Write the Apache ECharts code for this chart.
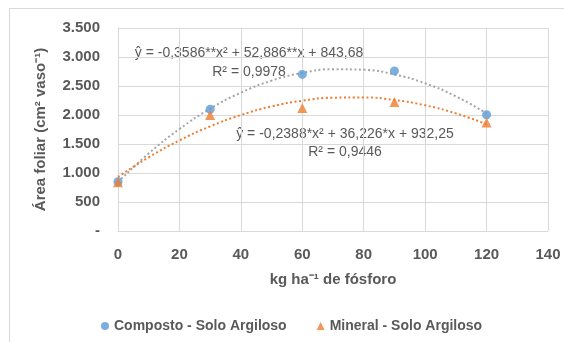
<!DOCTYPE html>
<html><head><meta charset="utf-8">
<script src="https://cdn.jsdelivr.net/npm/echarts@6/dist/echarts.min.js"></script>
<style>html,body{margin:0;padding:0;background:#fff}#c{width:564px;height:342px}</style>
</head><body><div id="c"></div>
<script>
// ---- data ----
var doses = [0, 30, 60, 90, 120];
var composto = [850, 2100, 2700, 2760, 2005];
var mineral = [840, 2000, 2120, 2225, 1870];
// trend curves (x = 0..120 step 10)
var trendX = [0, 10, 20, 30, 40, 50, 60, 70, 80, 90, 100, 110, 120];
var trendComposto = [844, 1337, 1758, 2108, 2385, 2592, 2726, 2789, 2780, 2699, 2546, 2322, 2026];
var trendMineral = [932, 1271, 1561, 1804, 1999, 2147, 2246, 2298, 2302, 2258, 2167, 2028, 1841];
var xTicks = {min: 0, max: 140, step: 20};
var yTicks = {min: 0, max: 3500, step: 500};
var eqComposto = ['ŷ = -0,3586**x² + 52,886**x + 843,68', 'R² = 0,9978'];
var eqMineral = ['ŷ = -0,2388*x² + 36,226*x + 932,25', 'R² = 0,9446'];
var names = ['Composto - Solo Argiloso', 'Mineral - Solo Argiloso'];

function pairs(xs, ys){ return xs.map(function(x,i){ return [x, ys[i]]; }); }

var font = 'Liberation Sans, Arial, sans-serif';
var grayTxt = '#595959';
var chart = echarts.init(document.getElementById('c'));
chart.setOption({
  animation: false,
  textStyle: {fontFamily: font},
  grid: {left: 118, right: 16, top: 28, bottom: 111},
  graphic: [
    {type: 'rect', shape: {x: 9.5, y: 8.5, width: 700, height: 500}, style: {fill: 'none', stroke: '#d9d9d9', lineWidth: 1}, z: -1},
    {type: 'text', x: 249, y: 53, style: {text: eqComposto[0], fill: grayTxt, font: '14px ' + font, textAlign: 'center', textVerticalAlign: 'middle'}},
    {type: 'text', x: 249, y: 72, style: {text: eqComposto[1], fill: grayTxt, font: '14px ' + font, textAlign: 'center', textVerticalAlign: 'middle'}},
    {type: 'text', x: 345, y: 134, style: {text: eqMineral[0], fill: grayTxt, font: '14px ' + font, textAlign: 'center', textVerticalAlign: 'middle'}},
    {type: 'text', x: 345, y: 152, style: {text: eqMineral[1], fill: grayTxt, font: '14px ' + font, textAlign: 'center', textVerticalAlign: 'middle'}}
  ],
  legend: {
    left: 96, top: 314,
    itemWidth: 8, itemHeight: 8, itemGap: 30,
    data: names,
    textStyle: {color: grayTxt, fontSize: 14, fontWeight: 'bold', fontFamily: font}
  },
  xAxis: {
    type: 'value', min: xTicks.min, max: xTicks.max, interval: xTicks.step,
    name: 'kg ha⁻¹ de fósforo', nameLocation: 'middle', nameGap: 41,
    nameTextStyle: {color: grayTxt, fontSize: 15, fontWeight: 'bold'},
    axisLine: {show: true, lineStyle: {color: '#d9d9d9'}},
    axisTick: {show: false},
    axisLabel: {color: grayTxt, fontSize: 15, fontWeight: 'bold', margin: 16},
    splitLine: {show: true, lineStyle: {color: '#d9d9d9'}}
  },
  yAxis: {
    type: 'value', min: yTicks.min, max: yTicks.max, interval: yTicks.step,
    name: 'Área foliar (cm² vaso⁻¹)', nameLocation: 'middle', nameGap: 70, nameRotate: 90,
    nameTextStyle: {color: grayTxt, fontSize: 15, fontWeight: 'bold'},
    axisLine: {show: true, lineStyle: {color: '#d9d9d9'}},
    axisTick: {show: false},
    axisLabel: {color: grayTxt, fontSize: 15, fontWeight: 'bold', margin: 18,
      formatter: function(v){ return v === 0 ? '-' : String(v).replace(/\B(?=(\d{3})+(?!\d))/g, '.'); }},
    splitLine: {show: true, lineStyle: {color: '#d9d9d9'}}
  },
  series: [
    {type: 'line', name: 'trendC', data: pairs(trendX, trendComposto), smooth: true, showSymbol: false, symbol: 'none',
     lineStyle: {color: '#A5A5A5', width: 2, type: [2, 2.5]}, z: 1, silent: true},
    {type: 'line', name: 'trendM', data: pairs(trendX, trendMineral), smooth: true, showSymbol: false, symbol: 'none',
     lineStyle: {color: '#ED7D31', width: 2, type: [2, 2.5]}, z: 1, silent: true},
    {type: 'scatter', name: names[0], data: pairs(doses, composto), symbol: 'circle', symbolSize: 9,
     itemStyle: {color: '#5B9BD5'}, z: 3},
    {type: 'scatter', name: names[1], data: pairs(doses, mineral), symbol: 'triangle', symbolSize: 10,
     itemStyle: {color: '#ED7D31'}, z: 4}
  ]
});
</script></body></html>
